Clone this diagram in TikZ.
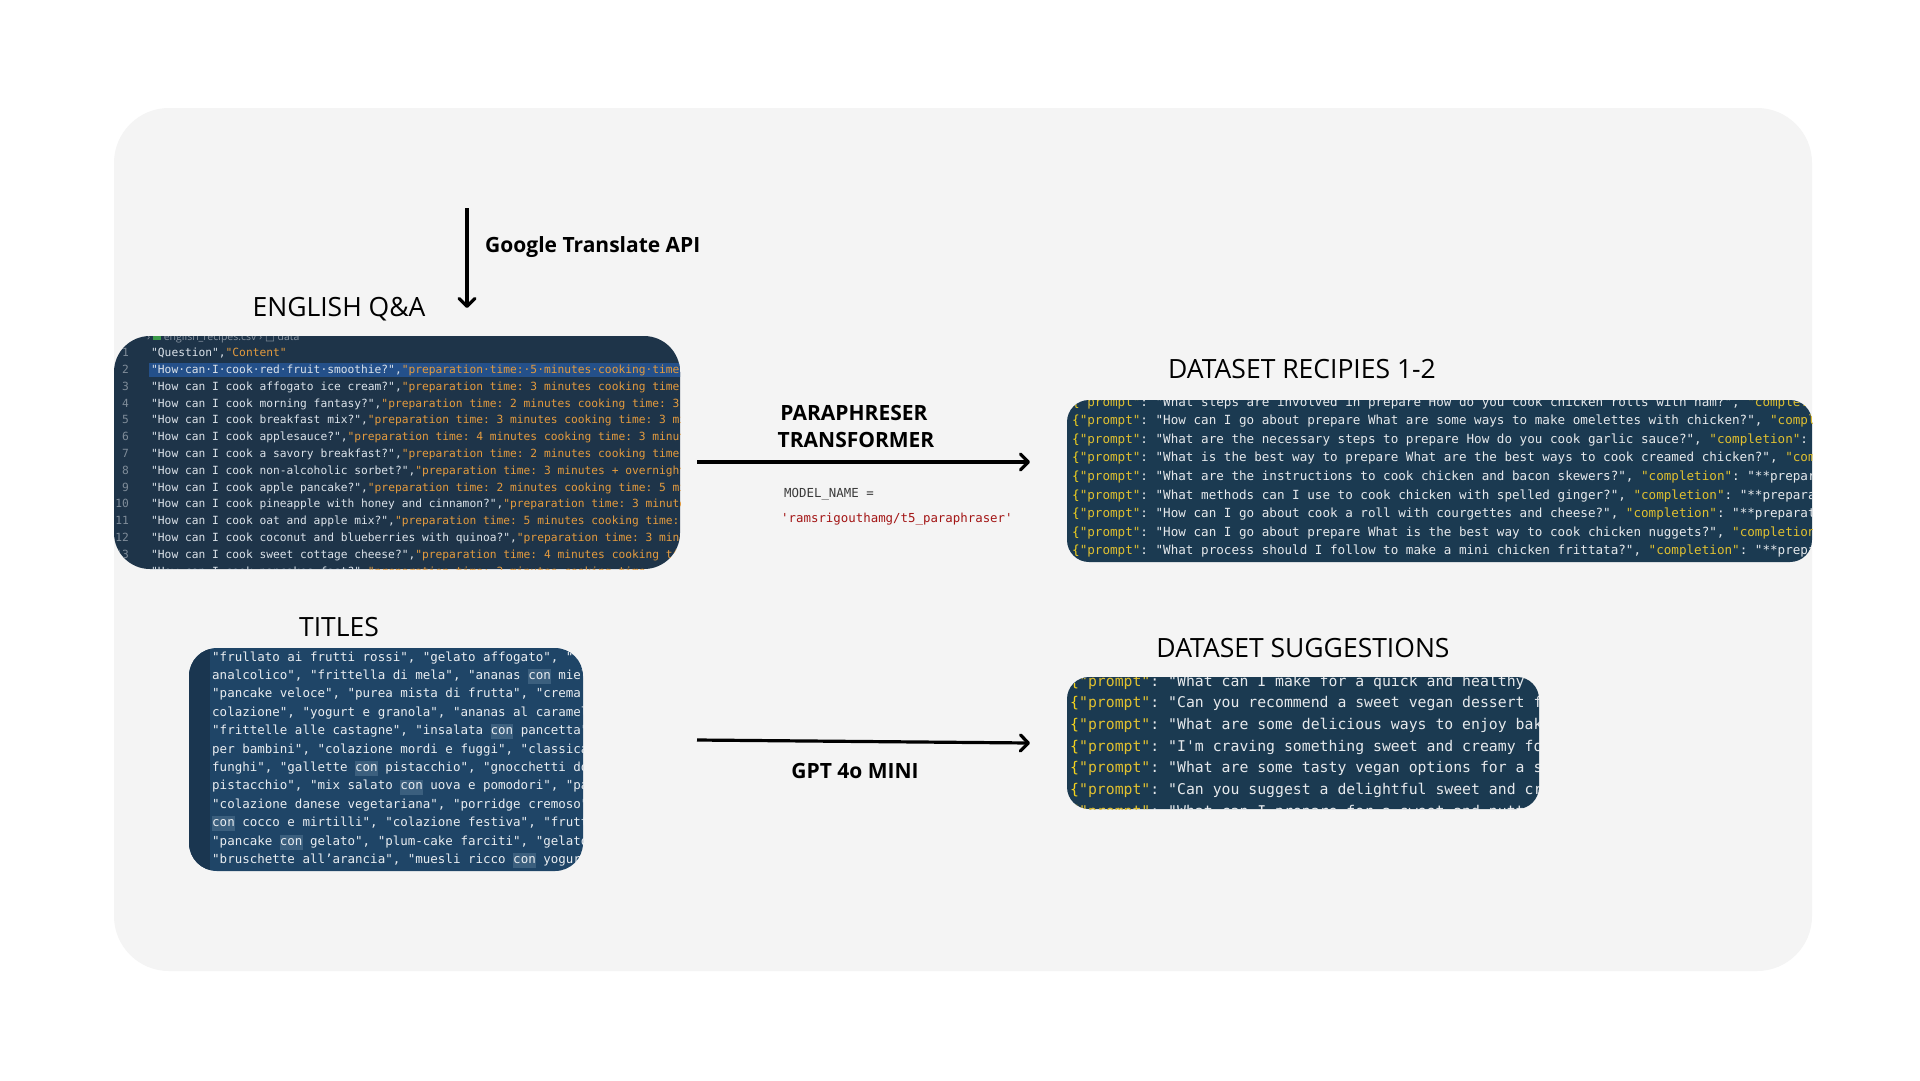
\documentclass[tikz,border=0pt]{standalone}
\usepackage{fontspec}
\setmainfont{Open Sans}
\setmonofont{DejaVu Sans Mono}
\newfontfamily\symfont{DejaVu Sans}
\usetikzlibrary{arrows.meta}

\definecolor{pagebg}{HTML}{F4F4F4}
\definecolor{qabg}{HTML}{1E3449}
\definecolor{selblue}{HTML}{24508A}
\definecolor{qtext}{HTML}{DCE3EA}
\definecolor{ctext}{HTML}{E49B3E}
\definecolor{linenum}{HTML}{7F8C99}
\definecolor{crumb}{HTML}{8A96A3}
\definecolor{xlsgreen}{HTML}{3C9A4A}
\definecolor{recbg}{HTML}{1B3A51}
\definecolor{rectext}{HTML}{E6E9EC}
\definecolor{keygold}{HTML}{E0C030}
\definecolor{braceyel}{HTML}{F5D31C}
\definecolor{titbg}{HTML}{1F4567}
\definecolor{gutter}{HTML}{1A3650}
\definecolor{conbg}{HTML}{3B5F7E}
\definecolor{tittext}{HTML}{E9EDF1}
\definecolor{modelgray}{HTML}{3B3B3B}
\definecolor{modelred}{HTML}{A31515}

\newcommand{\qcol}[1]{\textcolor{qtext}{#1}}
\newcommand{\ccol}[1]{\textcolor{ctext}{#1}}
\newcommand{\pkey}[1]{\textcolor{keygold}{#1}}
\newcommand{\pbr}{\textcolor{braceyel}{\{}}
\newcommand{\conhl}{\rlap{\textcolor{conbg}{\rule[-0.38em]{1.806em}{1.2em}}}con}
\frenchspacing

\begin{document}
\begin{tikzpicture}[x=1pt,y=-1pt,
    heading/.style={font=\fontsize{26.5pt}{32pt}\selectfont, anchor=base, inner sep=0pt},
    steplabel/.style={font=\fontsize{21pt}{26pt}\selectfont\bfseries, anchor=base, inner sep=0pt},
    codeline/.style={anchor=base west, inner sep=0pt},
    panel/.style={inner sep=0pt, outer sep=0pt},
    flow/.style={line width=3.2pt, -{Straight Barb[length=8pt, width=16pt, round]}},
  ]
  \fill[white] (0,0) rectangle (1920,1080);
  \useasboundingbox (0,0) rectangle (1920,1080);
  \node[panel, fill=pagebg, rounded corners=55pt, minimum width=1698pt, minimum height=863pt] (frame) at (963,539.5) {};

  % english q&a
  \node[panel, fill=qabg, rounded corners=36pt, minimum width=566pt, minimum height=233pt] (qa) at (397,452.5) {};
  \begin{scope}
    \clip[rounded corners=36pt] (qa.north west) rectangle (qa.south east);
    \fill[selblue] (149,363) rectangle (700,377);
    \node[codeline, font=\fontsize{10.5pt}{12pt}\selectfont, text=crumb] (crumbs) at (147,340)
      {› \textcolor{xlsgreen}{\rule{8pt}{8pt}} english\_recipes.csv › {\symfont □} data};
    \foreach \q/\c [count=\i] in {Question/Content",
      How·can·I·cook·red·fruit·smoothie?/preparation·time:·5·minutes·cooking·time:·,
      How can I cook affogato ice cream?/preparation time: 3 minutes cooking time: 2,
      How can I cook morning fantasy?/preparation time: 2 minutes cooking time: 3 minutes,
      How can I cook breakfast mix?/preparation time: 3 minutes cooking time: 3 minutes,
      How can I cook applesauce?/preparation time: 4 minutes cooking time: 3 minutes,
      How can I cook a savory breakfast?/preparation time: 2 minutes cooking time: 3,
      How can I cook non-alcoholic sorbet?/preparation time: 3 minutes + overnight,
      How can I cook apple pancake?/preparation time: 2 minutes cooking time: 5 minutes,
      How can I cook pineapple with honey and cinnamon?/preparation time: 3 minutes,
      How can I cook oat and apple mix?/preparation time: 5 minutes cooking time: 3,
      How can I cook coconut and blueberries with quinoa?/preparation time: 3 minutes,
      How can I cook sweet cottage cheese?/preparation time: 4 minutes cooking time,
      How can I cook pancakes fast?/preparation time: 3 minutes cooking time: 5}{
      \node[codeline, anchor=base east, font=\ttfamily\fontsize{11.25pt}{14pt}\selectfont, text=linenum] (qa-num-\i) at (129,{356.6+(\i-1)*16.8}) {\i};
      \node[codeline, font=\ttfamily\fontsize{11.25pt}{14pt}\selectfont] (qa-line-\i) at (151,{356.6+(\i-1)*16.8}) {\qcol{"\q",}\ccol{"\c}};
    }
  \end{scope}

  % italian titles
  \node[panel, fill=titbg, rounded corners=28pt, minimum width=394pt, minimum height=223pt] (titles) at (386,759.5) {};
  \begin{scope}
    \clip[rounded corners=28pt] (titles.north west) rectangle (titles.south east);
    \fill[gutter] (titles.north west) rectangle (210,880);
    \foreach \t [count=\i] in {{"frullato ai frutti rossi", "gelato affogato", "},
      {analcolico", "frittella di mela", "ananas \conhl{} miele},
      {"pancake veloce", "purea mista di frutta", "crema di},
      {colazione", "yogurt e granola", "ananas al caramello},
      {"frittelle alle castagne", "insalata \conhl{} pancetta",},
      {per bambini", "colazione mordi e fuggi", "classica},
      {funghi", "gallette \conhl{} pistacchio", "gnocchetti dolci},
      {pistacchio", "mix salato \conhl{} uova e pomodori", "pancake},
      {"colazione danese vegetariana", "porridge cremoso",},
      {\conhl{} cocco e mirtilli", "colazione festiva", "frutta},
      {"pancake \conhl{} gelato", "plum-cake farciti", "gelato},
      {"bruschette all’arancia", "muesli ricco \conhl{} yogurt}}{
      \node[codeline, font=\ttfamily\fontsize{12.5pt}{16pt}\selectfont, text=tittext] (titles-line-\i) at (212,{661+(\i-1)*18.4}) {\t};
    }
  \end{scope}

  % recipes dataset
  \node[panel, fill=recbg, rounded corners=22pt, minimum width=745pt, minimum height=162pt] (recipes) at (1439.5,481) {};
  \begin{scope}
    \clip[rounded corners=22pt] (recipes.north west) rectangle (recipes.south east);
    \foreach \t [count=\i] in {{\pbr\pkey{"prompt"}: "What steps are involved in prepare How do you cook chicken rolls with ham?", \pkey{"completion"}: "**preparation},
      {\pbr\pkey{"prompt"}: "How can I go about prepare What are some ways to make omelettes with chicken?", \pkey{"completion"}: "**prep},
      {\pbr\pkey{"prompt"}: "What are the necessary steps to prepare How do you cook garlic sauce?", \pkey{"completion"}: "**prep},
      {\pbr\pkey{"prompt"}: "What is the best way to prepare What are the best ways to cook creamed chicken?", \pkey{"completion"}: "**},
      {\pbr\pkey{"prompt"}: "What are the instructions to cook chicken and bacon skewers?", \pkey{"completion"}: "**preparation},
      {\pbr\pkey{"prompt"}: "What methods can I use to cook chicken with spelled ginger?", \pkey{"completion"}: "**preparation},
      {\pbr\pkey{"prompt"}: "How can I go about cook a roll with courgettes and cheese?", \pkey{"completion"}: "**preparation},
      {\pbr\pkey{"prompt"}: "How can I go about prepare What is the best way to cook chicken nuggets?", \pkey{"completion"}: "**prep},
      {\pbr\pkey{"prompt"}: "What process should I follow to make a mini chicken frittata?", \pkey{"completion"}: "**preparation}}{
      \node[codeline, font=\ttfamily\fontsize{12.6pt}{15pt}\selectfont, text=rectext] (recipes-line-\i) at (1072,{406+(\i-1)*18.6}) {\t};
    }
  \end{scope}

  % suggestions dataset
  \node[panel, fill=recbg, rounded corners=22pt, minimum width=472pt, minimum height=132pt] (suggestions) at (1303,743) {};
  \begin{scope}
    \clip[rounded corners=22pt] (suggestions.north west) rectangle (suggestions.south east);
    \foreach \t [count=\i] in {{\pbr\pkey{"prompt"}: "What can I make for a quick and healthy snack},
      {\pbr\pkey{"prompt"}: "Can you recommend a sweet vegan dessert for},
      {\pbr\pkey{"prompt"}: "What are some delicious ways to enjoy baked},
      {\pbr\pkey{"prompt"}: "I'm craving something sweet and creamy for},
      {\pbr\pkey{"prompt"}: "What are some tasty vegan options for a sweet},
      {\pbr\pkey{"prompt"}: "Can you suggest a delightful sweet and creamy},
      {\pbr\pkey{"prompt"}: "What can I prepare for a sweet and nutty}}{
      \node[codeline, font=\ttfamily\fontsize{14.8pt}{18pt}\selectfont, text=rectext] (sugg-line-\i) at (1070,{686+(\i-1)*21.7}) {\t};
    }
  \end{scope}

  % headings
  \node[heading] (qa-title) at (339,316.5) {ENGLISH Q\&A};
  \node[heading] (titles-title) at (339,636) {TITLES};
  \node[heading] (recipes-title) at (1302,378.5) {DATASET RECIPIES 1-2};
  \node[heading] (sugg-title) at (1303,657.5) {DATASET SUGGESTIONS};

  % steps
  \node[steplabel, anchor=base west] (gt-label) at (485,252.5) {Google Translate API};
  \node[steplabel] (para-label) at (854,420.5) {PARAPHRESER};
  \node[steplabel] (trans-label) at (856,447.5) {TRANSFORMER};
  \node[codeline, font=\ttfamily\fontsize{12.4pt}{15pt}\selectfont, text=modelgray] (model-key) at (784,497) {MODEL\_NAME =};
  \node[codeline, font=\ttfamily\fontsize{12.4pt}{15pt}\selectfont, text=modelred] (model-val) at (781,522.5) {'ramsrigouthamg/t5\_paraphraser'};
  \node[steplabel] (gpt-label) at (855,778.5) {GPT 4o MINI};

  \coordinate (gt-top) at (467,208);
  \coordinate (gt-end) at (467,308);
  \coordinate (para-start) at (697,462);
  \coordinate (para-end) at (1030,462);
  \coordinate (gpt-start) at (697,740);
  \coordinate (gpt-end) at (1030,743);
  \draw[flow] (gt-top) -- (gt-end);
  \draw[flow] (para-start) -- (para-end);
  \draw[flow] (gpt-start) -- (gpt-end);
\end{tikzpicture}
\end{document}
